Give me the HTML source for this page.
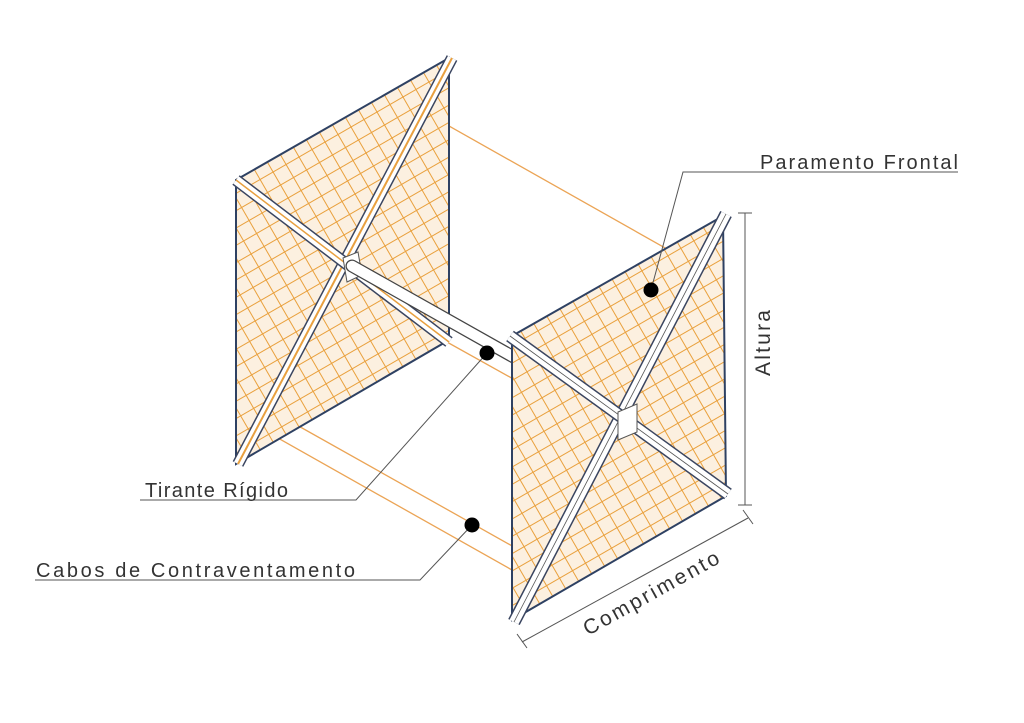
<!DOCTYPE html>
<html><head><meta charset="utf-8"><style>
html,body{margin:0;padding:0;background:#fff;}
svg{display:block;}
text{font-family:"Liberation Sans",sans-serif;fill:#333;}
</style></head><body>
<svg width="1024" height="723" viewBox="0 0 1024 723" xmlns="http://www.w3.org/2000/svg">
<defs>
<pattern id="mesh" width="15" height="15" patternUnits="userSpaceOnUse" patternTransform="rotate(-30)">
<path d="M0 0H15M0 0V15" stroke="#e9a03c" stroke-width="2" fill="none"/>
</pattern>
<clipPath id="cl"><polygon points="449,58 236,180 236,464 449,340"/></clipPath>
<clipPath id="cr"><polygon points="723,216 512,336 512,620 726,496"/></clipPath>
</defs>
<g stroke="#eba455" stroke-width="1.3">
<line x1="449" y1="126" x2="690" y2="262"/>
<line x1="420" y1="327" x2="560" y2="405"/>
<line x1="270" y1="410" x2="530" y2="556"/>
<line x1="246" y1="420" x2="512" y2="570"/>
</g>
<polygon points="449,58 236,180 236,464 449,340" fill="#fcf0e0"/>
<rect x="200" y="40" width="280" height="440" fill="url(#mesh)" clip-path="url(#cl)"/>
<polygon points="449,58 236,180 236,464 449,340" fill="none" stroke="#2e4163" stroke-width="2"/>
<g>
<line x1="452" y1="58" x2="238" y2="464" stroke="#3a4560" stroke-width="12"/>
<line x1="452" y1="58" x2="238" y2="464" stroke="#fff" stroke-width="9"/>
<line x1="452" y1="58" x2="238" y2="464" stroke="#e8a040" stroke-width="2"/>
<line x1="236" y1="180" x2="449" y2="342" stroke="#3a4560" stroke-width="12"/>
<line x1="236" y1="180" x2="449" y2="342" stroke="#fff" stroke-width="9"/>
<line x1="236" y1="180" x2="449" y2="342" stroke="#e8a040" stroke-width="1.5"/>
</g>
<polygon points="343,258 358,252 362,275 347,282" fill="#fff" stroke="#555" stroke-width="1"/>
<line x1="352" y1="266" x2="622" y2="418" stroke="#444" stroke-width="13" stroke-linecap="round"/>
<line x1="352" y1="266" x2="622" y2="418" stroke="#fff" stroke-width="10.5" stroke-linecap="round"/>
<polygon points="723,216 512,336 512,620 726,496" fill="#fcf0e0"/>
<rect x="490" y="200" width="260" height="440" fill="url(#mesh)" clip-path="url(#cr)"/>
<polygon points="723,216 512,336 512,620 726,496" fill="none" stroke="#2e4163" stroke-width="2"/>
<g>
<line x1="726" y1="214" x2="514" y2="622" stroke="#3a4560" stroke-width="13"/>
<line x1="726" y1="214" x2="514" y2="622" stroke="#fff" stroke-width="10"/>
<line x1="726" y1="214" x2="514" y2="622" stroke="#555" stroke-width="0.8"/>
<line x1="510" y1="336" x2="728" y2="494" stroke="#3a4560" stroke-width="13"/>
<line x1="510" y1="336" x2="728" y2="494" stroke="#fff" stroke-width="10"/>
<line x1="510" y1="336" x2="728" y2="494" stroke="#555" stroke-width="0.8"/>
</g>
<polygon points="618,412 637,404 637,432 618,440" fill="#fff" stroke="#555" stroke-width="1"/>
<g stroke="#555" stroke-width="1" fill="none">
<polyline points="651,290 683,172 958,172"/>
<polyline points="487,353 356,500 140,500"/>
<polyline points="472,525 420,580 35,580"/>
<line x1="745" y1="213" x2="745" y2="505"/>
<line x1="738" y1="213" x2="752" y2="213"/>
<line x1="738" y1="505" x2="752" y2="505"/>
<line x1="522" y1="642" x2="748" y2="518"/>
<line x1="517" y1="634" x2="527" y2="648"/>
<line x1="743" y1="510" x2="753" y2="524"/>
</g>
<circle cx="651" cy="290" r="7.5" fill="#000"/>
<circle cx="487" cy="353" r="7.5" fill="#000"/>
<circle cx="472" cy="525" r="7.5" fill="#000"/>
<text x="760" y="169" font-size="20" textLength="198" lengthAdjust="spacing">Paramento Frontal</text>
<text x="145" y="497" font-size="20" textLength="143" lengthAdjust="spacing">Tirante Rígido</text>
<text x="36" y="577" font-size="20" textLength="319" lengthAdjust="spacing">Cabos de Contraventamento</text>
<text x="0" y="0" font-size="21" textLength="66" lengthAdjust="spacing" transform="translate(770,376) rotate(-90)">Altura</text>
<text x="0" y="0" font-size="21" textLength="152" lengthAdjust="spacing" transform="translate(588,636) rotate(-29)">Comprimento</text>
</svg>
</body></html>
